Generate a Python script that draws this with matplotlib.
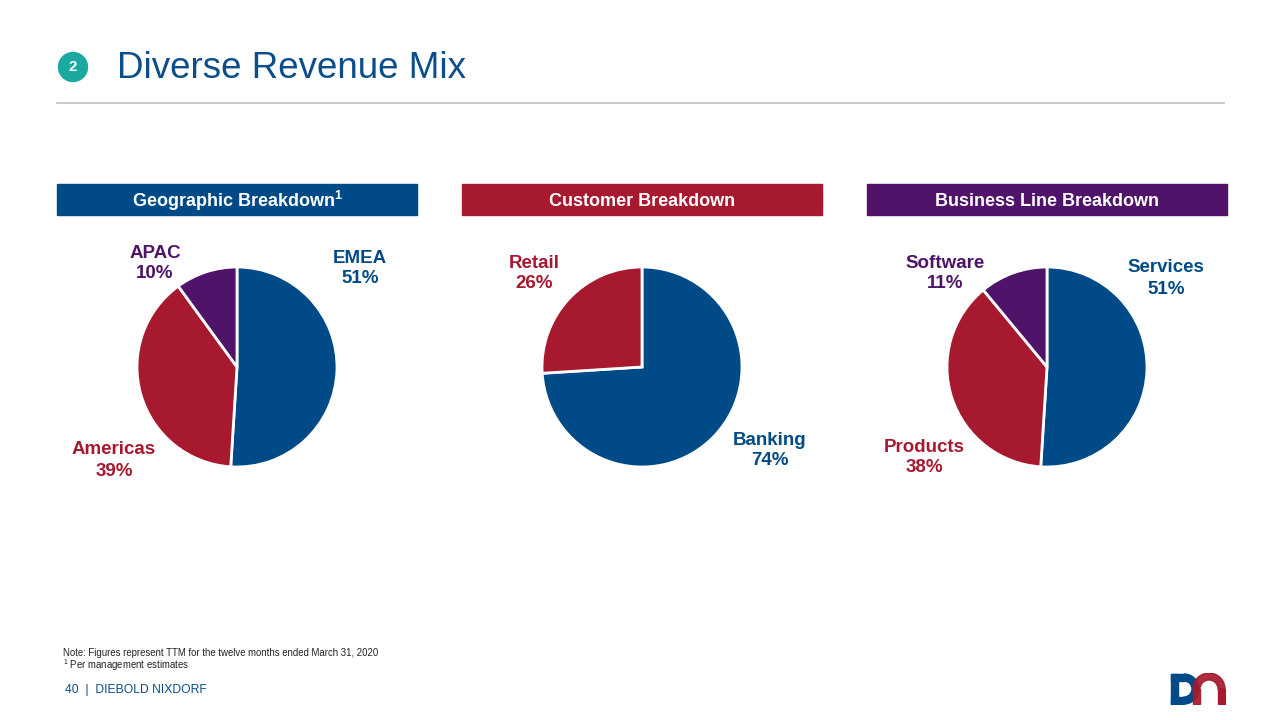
import matplotlib.pyplot as plt
from matplotlib.patches import Rectangle, Circle, Wedge

plt.rcParams["font.family"] = ["Liberation Sans", "DejaVu Sans"]

# data
geo_labels = ["EMEA", "Americas", "APAC"]
geo_values = [51, 39, 10]
customer_labels = ["Banking", "Retail"]
customer_values = [74, 26]
business_labels = ["Services", "Products", "Software"]
business_values = [51, 38, 11]
panel_titles = ["Geographic Breakdown$^{\\mathregular{1}}$", "Customer Breakdown", "Business Line Breakdown"]

BLUE = "#004B87"
RED = "#A6192E"
PURPLE = "#4F136A"
TEAL = "#1BA8A0"
TITLE_BLUE = "#0C4E8C"

W, H = 1280, 720
fig = plt.figure(figsize=(12.8, 7.2), dpi=100)
fig.patch.set_facecolor("white")


def px(x, y):
    return x / W, 1 - y / H


def ftext(x, y, s, **kw):
    fx, fy = px(x, y)
    fig.text(fx, fy, s, **kw)


# header
fig.patches.append(Circle((73 / 100, (H - 67) / 100), 0.145, transform=fig.dpi_scale_trans, color=TEAL))
ftext(73, 67, "2", color="white", fontsize=11, ha="center", va="center", weight="bold")
ftext(117, 68, "Diverse Revenue Mix", color=TITLE_BLUE, fontsize=26.5, ha="left", va="center")
fig.add_artist(plt.Line2D([57 / W, 1224 / W], [1 - 103 / H] * 2, color="#BDBDBD", lw=1.2))

# banners
banner_colors = [BLUE, RED, PURPLE]
for i, (title, c) in enumerate(zip(panel_titles, banner_colors)):
    x0 = 57 + i * 405
    fig.patches.append(Rectangle((x0 / W, 1 - 215 / H), 360 / W, 31 / H,
                                 transform=fig.transFigure, color=c))
    ftext(x0 + 180, 201, title, color="white", fontsize=13, weight="bold", ha="center", va="center")


def draw_pie(cx, labels, values, colors):
    ax = fig.add_axes([(cx - 100) / W, (H - 467) / H, 200 / W, 200 / H])
    ax.pie(values, colors=colors, startangle=90, counterclock=False,
           wedgeprops=dict(edgecolor="white", linewidth=2))
    ax.set_xlim(-1.0, 1.0)
    ax.set_ylim(-1.0, 1.0)
    ax.set_aspect("auto")
    ax.axis("off")


draw_pie(237, geo_labels, geo_values, [BLUE, RED, PURPLE])
draw_pie(642, customer_labels, customer_values, [BLUE, RED])
draw_pie(1047, business_labels, business_values, [BLUE, RED, PURPLE])

label_pos = {
    "EMEA": (360, 258, BLUE), "Americas": (114, 450, RED), "APAC": (155, 253, PURPLE),
    "Banking": (770, 440, BLUE), "Retail": (534, 263, RED),
    "Services": (1166, 268, BLUE), "Products": (924, 447, RED), "Software": (945, 263, PURPLE),
}
for labels, values in [(geo_labels, geo_values), (customer_labels, customer_values),
                       (business_labels, business_values)]:
    for lab, v in zip(labels, values):
        x, y, c = label_pos[lab]
        ftext(x, y, lab, color=c, fontsize=13.5, weight="bold", ha="center", va="center")
        ftext(x, y + 21, f"{v}%", color=c, fontsize=13.5, weight="bold", ha="center", va="center")

# footer
ftext(63, 653, "Note: Figures represent TTM for the twelve months ended March 31, 2020",
      fontsize=6.9, color="#222222", va="center")
ftext(63, 665, "$^{\\mathregular{1}}$ Per management estimates", fontsize=6.9, color="#222222", va="center")
ftext(65, 690, "40  |  DIEBOLD NIXDORF", fontsize=8.7, color=TITLE_BLUE, va="center")

# logo
lax = fig.add_axes([1168 / W, (H - 705) / H, 58 / W, 32 / H])
lax.set_xlim(0, 58)
lax.set_ylim(0, 32)
lax.axis("off")
lax.add_patch(Rectangle((3, 1), 7, 30, color=BLUE))
lax.add_patch(Rectangle((3, 1), 13, 7, color=BLUE))
lax.add_patch(Rectangle((3, 24), 13, 7, color=BLUE))
lax.add_patch(Wedge((16, 16), 15, -90, 90, width=7, color=BLUE))
lax.add_patch(Wedge((41, 16), 16, 0, 180, width=7, color=RED, alpha=0.92))
lax.add_patch(Rectangle((25, 1), 7, 15, color=RED, alpha=0.92))
lax.add_patch(Rectangle((50, 1), 7, 15, color=RED))

fig.savefig("out.png", dpi=100)
